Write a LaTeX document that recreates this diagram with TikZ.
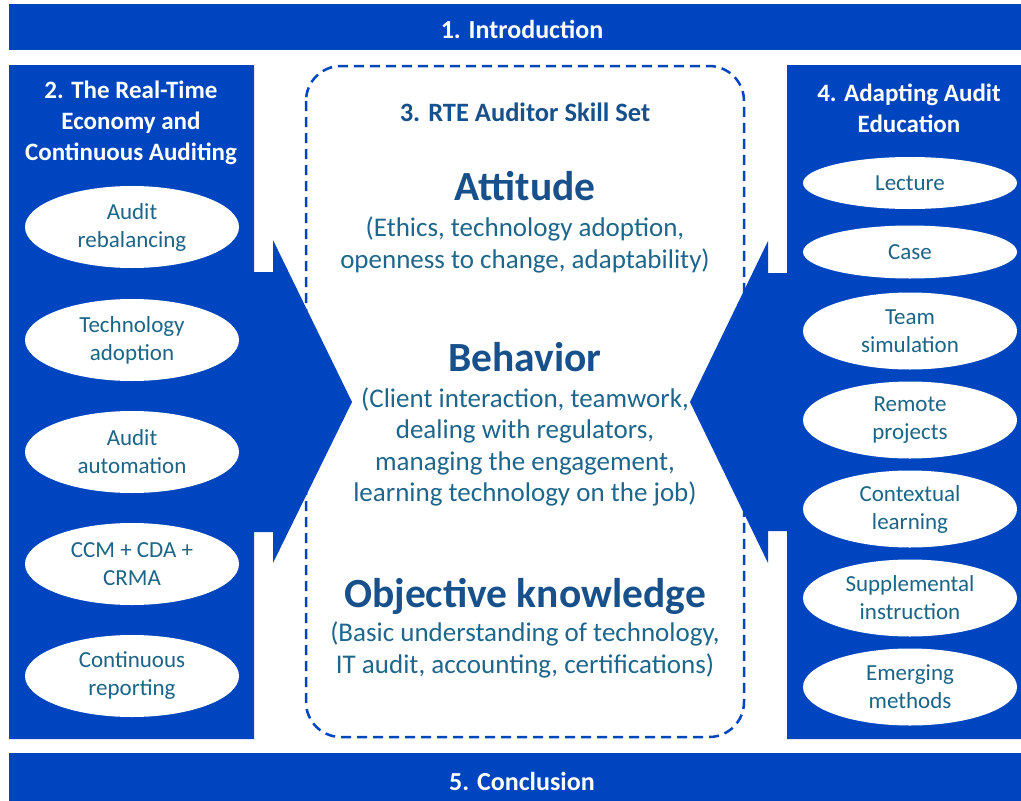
\documentclass[tikz,border=0pt]{standalone}
\usepackage{fontspec}
\setmainfont{Carlito}
\usetikzlibrary{shapes.geometric}
\definecolor{panelblue}{HTML}{0045C0}
\definecolor{headtext}{HTML}{17508A}
\definecolor{bodytext}{HTML}{1F668C}
\definecolor{ovaltext}{HTML}{1C6587}
\begin{document}
\begin{tikzpicture}[x=1pt,y=-1pt,
  panel/.style={fill=panelblue,draw=none},
  bartext/.style={text=white,font=\fontsize{26}{31}\selectfont\bfseries,inner sep=0},
  paneltitle/.style={text=white,font=\fontsize{25}{31}\selectfont\bfseries,align=center,inner sep=0},
  oval/.style={ellipse,fill=white,draw=none,minimum width=214pt,inner sep=0,
    text=ovaltext,align=center,font=\fontsize{23}{28}\selectfont},
  skilltitle/.style={text=headtext,font=\fontsize{26.5}{31}\selectfont\bfseries,inner sep=0},
  skillname/.style={text=headtext,font=\fontsize{41.5}{46}\selectfont\bfseries,inner sep=0},
  skilltext/.style={text=bodytext,font=\fontsize{27}{31.5}\selectfont,align=center,inner sep=0},
  skillframe/.style={draw=panelblue,line width=2.5pt,dash pattern=on 10pt off 6pt,rounded corners=35pt}]
\useasboundingbox (0,0) rectangle (1021,801);
\fill[white] (0,0) rectangle (1021,801);

% top and bottom bars
\fill[panel] (9,4) rectangle (1021,50);
\node[bartext] (intro) at (522,29) {1. Introduction};
\fill[panel] (9,753) rectangle (1021,801);
\node[bartext] (concl) at (522,781) {5. Conclusion};

% dashed frame of the skill set (drawn first, the arrows cover it)
\draw[skillframe] (306,66) rectangle (744,737);

% left panel with its arrow
\fill[panel] (9,65) -- (254,65) -- (254,272) -- (273,272) -- (273,240) -- (352,402)
  -- (273,563) -- (273,532) -- (254,532) -- (254,739) -- (9,739) -- cycle;
% right panel with its arrow
\fill[panel] (787,65) -- (1021,65) -- (1021,739) -- (787,739) -- (787,531) -- (768,531)
  -- (768,563) -- (690,402) -- (768,241) -- (768,273) -- (787,273) -- cycle;

% left panel content
\node[paneltitle] (rte) at (131,123) {2. The Real-Time\\Economy and\\Continuous Auditing};
\node[oval,minimum height=82pt] (l1) at (132,227) {Audit\\rebalancing};
\node[oval,minimum height=82pt] (l2) at (132,340) {Technology\\adoption};
\node[oval,minimum height=82pt] (l3) at (132,452) {Audit\\automation};
\node[oval,minimum height=82pt] (l4) at (132,564) {CCM + CDA +\\CRMA};
\node[oval,minimum height=82pt] (l5) at (132,676) {Continuous\\reporting};

% right panel content
\node[paneltitle] (edu) at (909,108) {4. Adapting Audit\\Education};
\node[oval,minimum height=52pt] (r1) at (910,183) {Lecture};
\node[oval,minimum height=53pt] (r2) at (910,252) {Case};
\node[oval,minimum height=77pt] (r3) at (910,331) {Team\\simulation};
\node[oval,minimum height=77pt] (r4) at (910,420) {Remote\\projects};
\node[oval,minimum height=77pt] (r5) at (910,509) {Contextual\\learning};
\node[oval,minimum height=77pt] (r6) at (910,598) {Supplemental\\instruction};
\node[oval,minimum height=77pt] (r7) at (910,687) {Emerging\\methods};

% skill set content
\node[skilltitle] (skills) at (525,112) {3. RTE Auditor Skill Set};
\node[skillname] (att) at (525,186) {Attitude};
\node[skilltext] (attx) at (525,245) {(Ethics, technology adoption,\\openness to change, adaptability)};
\node[skillname] (beh) at (525,357) {Behavior};
\node[skilltext] (behx) at (525,447) {(Client interaction, teamwork,\\dealing with regulators,\\managing the engagement,\\learning technology on the job)};
\node[skillname] (obj) at (525,596) {Objective knowledge};
\node[skilltext] (objx) at (525,650) {(Basic understanding of technology,\\IT audit, accounting, certifications)};
\end{tikzpicture}
\end{document}
